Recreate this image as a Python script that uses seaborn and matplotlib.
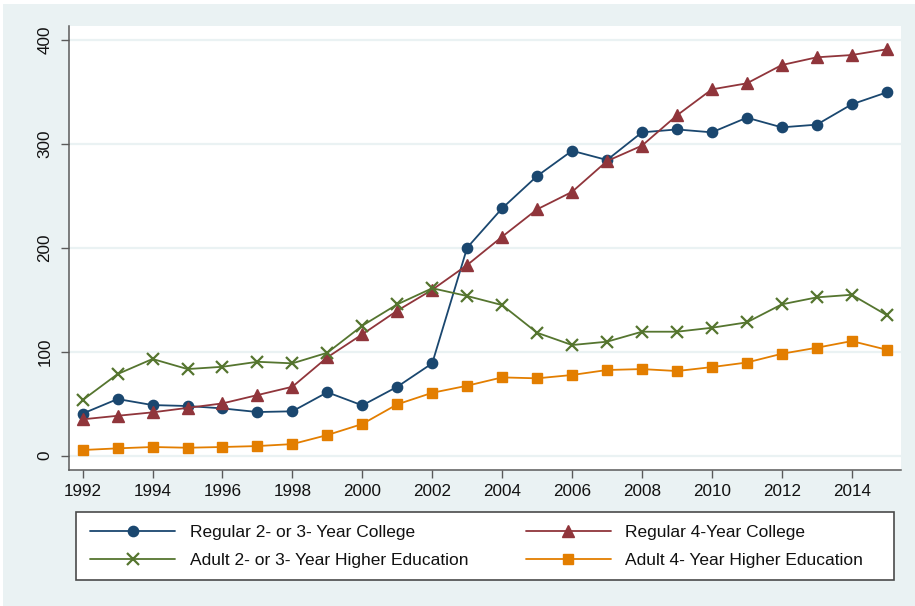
import matplotlib
matplotlib.use("Agg")
import matplotlib.pyplot as plt
from matplotlib.patches import Rectangle
import numpy as np
import pandas as pd
import seaborn as sns

years = list(range(1992, 2016))

regular_2_3 = [40.5, 54.5, 48.7, 47.8, 45.5, 42.0, 42.7, 61.0, 48.4, 66.3, 88.8, 200.0,
               237.8, 268.8, 293.1, 284.2, 310.8, 313.6, 310.8, 324.9, 315.6, 318.2, 337.7, 349.2]
regular_4 = [35.0, 38.4, 41.7, 46.0, 50.3, 58.3, 66.3, 94.6, 116.7, 139.4, 159.5, 183.3,
             210.5, 236.8, 253.6, 283.2, 298.0, 327.1, 352.1, 357.9, 375.5, 382.9, 385.1, 390.6]
adult_2_3 = [53.5, 78.5, 93.0, 83.3, 85.5, 90.3, 88.8, 99.0, 125.0, 145.5, 161.0, 153.5,
             144.8, 118.2, 106.4, 109.6, 119.2, 119.2, 123.0, 128.2, 145.5, 152.2, 154.7, 135.2]
adult_4 = [5.5, 7.1, 8.4, 7.7, 8.4, 9.3, 11.2, 19.9, 30.5, 49.4, 60.5, 67.3,
           75.3, 74.4, 77.6, 82.4, 83.3, 81.4, 85.2, 89.6, 98.0, 103.8, 110.2, 101.9]

labels = ["Regular 2- or 3- Year College", "Regular 4-Year College",
          "Adult 2- or 3- Year Higher Education", "Adult 4- Year Higher Education"]
x_ticks = list(range(1992, 2016, 2))
y_ticks = [0, 100, 200, 300, 400]

BG = "#EAF2F3"
AXIS = "#5a5a5a"
W, H = 915, 606

sns.set_theme(style="white")
plt.rcParams["font.family"] = ["Liberation Sans", "DejaVu Sans"]

fig = plt.figure(figsize=(W / 100, H / 100), dpi=100)
fig.patch.set_facecolor("white")
# outer graph region
fig.add_artist(Rectangle((3 / W, 0), 1 - 3 / W, 1 - 4 / H,
                         transform=fig.transFigure, facecolor=BG,
                         edgecolor="none", zorder=-10))
# legend box
fig.add_artist(Rectangle((76 / W, 1 - 580 / H), (894 - 76) / W, (580 - 512) / H,
                         transform=fig.transFigure, facecolor="white",
                         edgecolor="#4a4a4a", linewidth=1.2, zorder=1))

ax = fig.add_axes([69 / W, 1 - 470 / H, (901 - 69) / W, (470 - 26) / H])
ax.set_facecolor("white")

series = [
    (regular_2_3, "#1a476f", "o", 7.4, 1.0),
    (regular_4, "#90353b", "^", 8.2, 1.0),
    (adult_2_3, "#55752f", "x", 8.5, 1.6),
    (adult_4, "#e37e00", "s", 7.8, 1.0),
]
for (vals, color, mk, ms, mew), lab in zip(series, labels):
    df = pd.DataFrame({"year": years, "value": vals})
    sns.lineplot(data=df, x="year", y="value", ax=ax, color=color, marker=mk,
                 markersize=ms, markeredgewidth=mew, markeredgecolor=color,
                 linewidth=1.3, label=lab, legend=False)

ax.set_xlim(1991.61, 2015.41)
ax.set_ylim(-13.7, 413)
ax.set_xticks(x_ticks)
ax.set_yticks(y_ticks)
ax.set_xlabel("")
ax.set_ylabel("")
for yv in y_ticks:
    ax.axhline(yv, color=BG, linewidth=1.6, zorder=0)

for side in ("top", "right"):
    ax.spines[side].set_visible(False)
for side in ("left", "bottom"):
    ax.spines[side].set_color(AXIS)
    ax.spines[side].set_linewidth(1.1)

ax.tick_params(axis="both", which="major", direction="out", length=6, width=1.0,
               color=AXIS, labelsize=12.3, labelcolor="#111111",
               left=True, bottom=True)
ax.tick_params(axis="x", pad=4)
ax.tick_params(axis="y", pad=6)
for t in ax.get_yticklabels():
    t.set_rotation(90)
    t.set_va("center")

handles, _ = ax.get_legend_handles_labels()
order = [0, 2, 1, 3]
leg = fig.legend([handles[i] for i in order], [labels[i] for i in order],
                 ncol=2, loc="center",
                 bbox_to_anchor=((86.7 + 866.7) / 2 / W, 1 - 546.5 / H),
                 frameon=False, fontsize=12.5,
                 handlelength=4.9, handletextpad=0.83, labelspacing=0.78,
                 columnspacing=3.3, borderpad=0, borderaxespad=0)
leg.set_zorder(2)
for t in leg.get_texts():
    t.set_color("#111111")

fig.savefig("out.png", dpi=100)
